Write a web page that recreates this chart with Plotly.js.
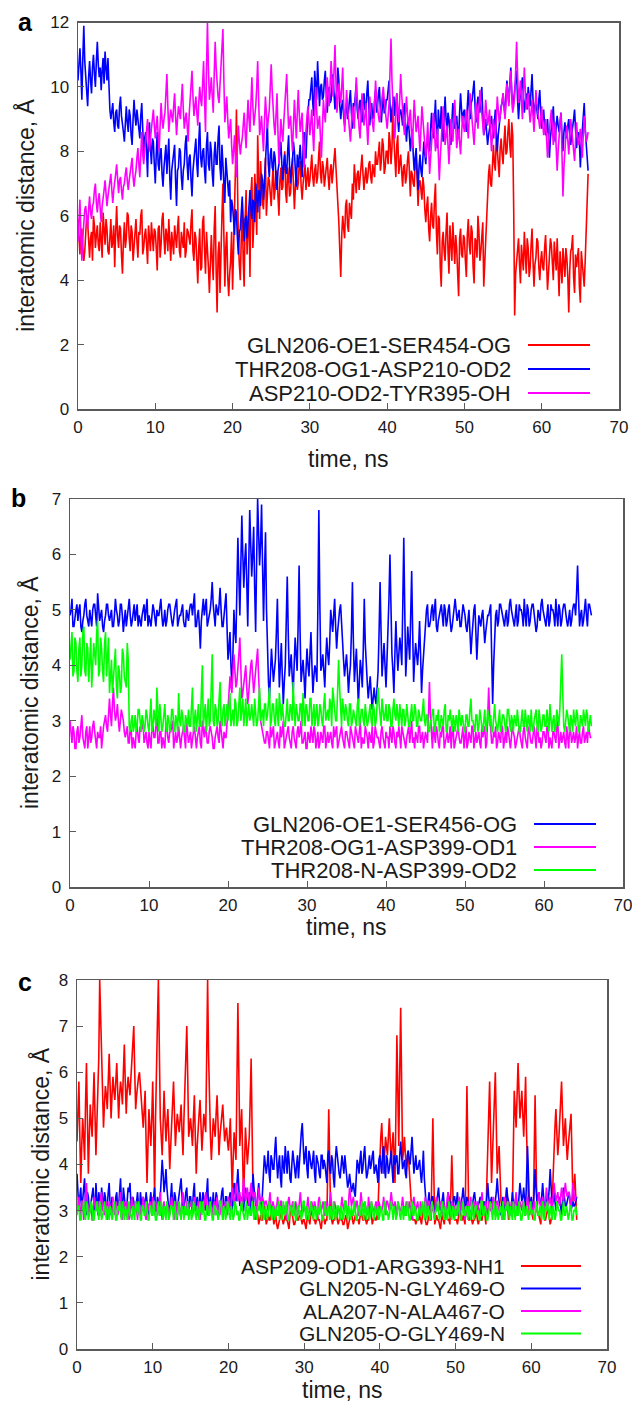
<!DOCTYPE html>
<html><head><meta charset="utf-8">
<script src="https://cdn.plot.ly/plotly-3.0.1.min.js"></script>
<style>html,body{margin:0;padding:0;background:#fff}</style>
</head><body><div id="chart" style="width:632px;height:1406px"></div>
<script>
// Readings at t = 0, 0.25, 0.5 ... ns (main) and at the half steps t = 0.125, 0.375 ... ns (mid)
const T_STEP = 0.25;

// ---------- panel a ----------
const namesA = ["GLN206-OE1-SER454-OG", "THR208-OG1-ASP210-OD2", "ASP210-OD2-TYR395-OH"];
const aRed = [
5.9,4.8,5.6,4.6,5.3,5.8,4.7,5.5,6.0,5.0,5.7,4.9,5.4,6.1,5.1,5.6,4.8,5.9,5.2,4.4,
6.3,5.0,5.6,4.2,5.8,5.3,6.0,4.9,5.5,5.1,5.9,4.7,5.4,6.2,5.0,5.6,4.5,5.3,5.8,4.9,
5.5,4.3,5.7,5.1,6.1,4.8,5.4,5.9,4.6,5.2,5.7,5.0,6.0,4.7,5.3,5.8,4.9,5.5,5.1,6.2,
4.6,5.3,3.9,5.6,4.4,6.0,4.2,5.1,3.6,5.4,4.0,6.3,3.0,5.2,4.5,7.0,3.8,5.5,3.5,4.6,
3.7,6.0,9.3,5.2,4.0,6.4,3.8,6.8,5.5,4.1,7.2,5.8,6.6,8.5,5.9,7.0,6.2,7.8,6.5,7.1,
6.3,7.6,6.8,7.3,6.0,7.5,6.9,8.0,6.4,7.2,6.7,7.8,6.2,7.4,7.0,7.7,6.5,7.3,6.8,7.5,
7.1,7.9,6.9,7.6,7.2,8.3,7.0,7.5,7.3,7.8,6.8,7.6,7.4,8.1,7.0,5.8,4.1,6.0,5.3,6.5,
5.5,6.2,7.0,7.6,6.7,7.4,7.1,7.9,6.8,7.5,7.2,7.7,7.0,7.4,8.0,7.6,8.3,7.7,8.2,7.5,
8.0,8.6,7.6,9.5,7.8,8.2,7.3,7.9,6.9,7.6,7.2,8.0,6.6,7.3,6.9,7.8,6.3,7.1,6.5,6.9,
5.8,6.6,5.2,6.4,5.6,7.0,4.8,5.9,3.8,5.5,4.6,6.1,4.2,5.3,5.8,4.5,5.0,3.5,5.6,4.7,
5.3,4.1,5.9,4.8,5.5,3.9,5.2,6.0,4.6,5.4,3.8,5.0,6.8,7.6,6.9,8.2,7.4,8.0,7.2,8.4,
7.6,8.8,8.0,9.0,7.8,8.5,2.9,4.6,5.3,3.9,4.8,5.5,4.2,5.0,4.4,5.6,3.8,4.7,5.2,4.0,
4.9,4.3,5.4,3.7,4.6,5.1,4.0,4.8,5.3,3.5,4.5,5.0,4.1,4.7,3.0,4.9,5.4,3.6,4.4,5.0,
3.3,4.6,3.8,5.5,7.3];
const aRedMid = [
5.2,5.5,5.0,4.9,6.0,5.1,5.3,4.6,5.7,5.4,5.1,5.8,4.7,5.5,5.9,4.9,5.3,5.0,5.7,5.5,
5.4,5.7,4.8,5.2,5.0,6.1,5.3,5.7,4.6,5.6,5.2,5.5,6.0,4.8,5.4,5.1,5.7,4.9,5.3,5.6,
5.0,5.6,4.7,5.9,5.3,5.6,4.9,5.2,5.5,4.8,5.3,5.6,4.9,5.5,5.0,4.7,5.6,5.2,5.8,4.9,
5.5,4.6,5.0,4.3,5.8,4.9,5.5,4.4,5.0,4.6,5.6,4.3,4.8,3.6,6.0,4.4,5.0,4.1,4.2,5.5,
4.9,7.5,6.6,4.5,5.3,4.6,5.9,4.8,6.3,6.7,5.0,7.3,5.4,6.9,7.7,6.4,7.4,6.0,7.2,6.6,
7.0,6.5,7.4,6.6,7.1,6.8,7.6,6.7,7.5,6.6,7.3,7.0,6.9,6.8,7.6,6.9,7.0,7.6,7.2,6.9,
7.5,7.2,7.4,7.0,7.8,7.3,7.7,6.9,7.6,7.2,7.4,7.0,7.7,7.5,6.6,4.9,5.4,5.6,6.3,5.7,
6.4,5.9,6.5,7.2,7.3,6.8,7.6,7.3,7.2,7.0,7.6,7.2,7.6,7.2,7.6,8.1,7.4,8.4,7.3,8.0,
7.6,8.3,8.1,8.4,7.2,8.5,7.7,7.4,7.5,7.0,7.7,7.4,7.4,7.0,7.6,7.2,7.0,6.8,7.2,6.2,
6.3,5.6,6.0,5.7,6.5,5.5,6.0,4.4,5.2,4.9,5.5,4.9,5.7,4.6,5.1,5.4,4.2,5.3,4.8,5.4,
4.6,5.4,5.1,5.7,4.4,5.3,4.7,5.5,4.9,5.8,4.5,5.6,7.3,7.0,7.8,7.6,8.5,7.5,8.1,7.9,
8.3,7.9,8.6,8.2,8.9,6.2,4.2,4.8,4.5,5.1,4.3,4.9,5.3,4.1,5.1,4.6,4.5,5.3,4.4,4.6,
4.4,5.0,4.6,4.2,5.3,4.4,5.2,4.3,4.6,4.9,3.9,4.6,5.0,4.1,4.3,5.0,4.1,4.8,4.7,3.8,
4.9,4.2,4.6,6.5];
const aBlue = [
10.2,11.2,9.6,11.9,10.4,9.4,10.8,9.8,11.0,10.0,11.4,10.3,9.9,10.9,11.1,10.2,9.6,9.0,9.5,8.6,
9.3,8.7,9.7,8.9,8.3,9.4,8.6,9.1,8.2,9.6,8.8,9.0,8.4,9.5,7.9,8.6,7.2,8.9,7.6,8.3,
7.0,8.6,7.4,8.1,6.9,7.8,7.3,8.4,6.5,7.7,8.2,6.3,7.5,8.0,6.8,7.6,8.5,7.1,7.9,6.6,
7.8,8.4,7.2,8.9,7.5,8.1,7.0,8.6,7.4,8.0,6.9,8.3,7.6,8.8,7.1,7.7,6.4,7.3,6.6,5.8,
6.3,5.4,6.1,4.8,5.6,6.6,5.2,6.0,5.7,6.8,5.9,6.4,7.0,6.1,6.7,7.3,6.5,7.6,8.9,7.2,
8.1,7.4,7.8,6.8,7.6,8.3,7.1,7.9,7.3,8.5,7.0,7.7,8.0,6.9,7.5,8.2,7.2,8.6,7.8,9.2,
9.6,10.3,9.1,9.9,10.8,9.4,10.1,9.7,10.5,9.2,10.0,9.6,10.4,9.3,9.9,10.2,9.0,9.6,8.8,9.5,
9.2,9.9,8.7,9.4,10.1,9.0,9.6,8.9,9.8,9.3,10.2,8.8,9.5,9.1,9.9,9.4,10.0,8.9,9.7,9.2,
9.6,10.2,8.9,9.5,9.1,9.8,8.6,9.3,8.8,9.5,8.3,9.0,8.0,8.7,7.4,8.1,6.8,7.9,7.2,8.3,
7.6,8.5,8.0,9.2,8.4,9.6,8.1,8.8,9.4,8.3,9.7,8.6,9.0,8.2,9.5,8.7,9.1,8.4,9.8,8.9,
9.3,8.6,9.9,9.0,9.6,10.2,8.9,9.7,9.2,10.0,8.5,9.0,8.2,8.7,9.1,8.4,9.3,8.0,8.8,9.4,
9.8,9.1,10.2,9.5,10.6,9.3,9.9,10.5,9.0,9.7,10.3,9.2,9.8,10.0,9.4,10.4,9.1,9.6,9.0,9.9,
8.7,9.3,8.5,9.0,7.8,8.8,9.4,8.3,9.1,8.6,9.2,8.0,8.9,8.4,9.0,8.2,8.7,9.3,8.1,8.6,
7.5,8.7,9.5,8.2,7.4];
const aBlueMid = [
10.8,10.5,10.9,10.8,9.9,10.3,10.2,10.6,10.4,10.8,10.7,10.6,10.5,10.1,10.6,10.9,9.3,9.4,8.9,9.2,
8.8,9.4,9.1,8.6,9.0,8.9,9.3,8.5,9.0,9.1,9.3,8.5,9.1,8.7,8.4,8.0,8.5,8.1,8.4,7.6,
7.9,7.6,8.0,7.3,7.5,8.2,7.7,7.2,7.4,8.0,7.1,7.4,8.1,7.2,7.4,8.2,7.6,7.8,7.1,7.4,
8.2,7.6,8.3,7.8,8.0,7.4,8.2,7.6,8.3,7.3,7.9,7.6,8.4,7.5,8.2,7.0,7.8,6.9,7.1,6.5,
5.9,6.2,5.3,5.5,6.1,5.8,5.9,5.3,6.4,6.2,6.5,5.8,6.6,6.8,6.3,7.1,7.0,8.2,7.6,7.9,
7.5,8.0,7.2,7.4,8.0,7.6,7.6,7.4,8.0,7.5,7.5,8.3,7.4,7.9,7.8,7.6,8.1,7.8,8.6,9.6,
9.9,9.5,10.5,9.6,9.9,10.0,9.6,10.2,9.8,9.8,9.5,10.1,9.8,9.7,10.6,9.4,9.4,9.1,9.3,9.0,
9.6,9.2,9.5,9.7,9.3,9.4,9.2,9.5,9.3,9.8,9.4,9.3,9.0,9.6,9.2,9.8,9.3,9.4,9.2,9.6,
9.9,9.4,9.3,9.7,9.5,9.0,9.2,9.1,9.3,8.8,8.8,8.5,8.4,7.9,7.8,7.4,7.5,7.4,7.8,7.9,
8.2,8.1,8.7,8.6,9.0,8.7,9.3,8.7,8.8,9.1,9.0,9.2,8.5,8.9,9.1,8.9,8.6,9.2,9.3,9.2,
8.9,9.4,9.3,9.5,9.9,9.4,9.4,9.5,9.7,9.2,8.7,8.6,8.5,9.0,8.7,8.9,8.6,8.5,9.2,9.5,
9.4,9.7,9.8,10.1,9.8,9.6,10.2,9.6,9.5,10.0,9.6,9.5,9.3,9.7,9.9,9.6,9.4,9.3,9.6,9.2,
9.0,8.8,8.6,8.4,8.4,9.1,8.7,8.8,8.8,8.9,8.5,8.6,8.6,8.8,8.5,8.5,9.0,8.6,8.4,8.3,
8.2,9.1,8.7,7.8];
const aMagenta = [
5.2,6.5,4.6,5.9,6.3,5.6,6.6,5.9,6.4,7.0,6.1,6.7,5.8,6.5,7.1,6.3,6.8,7.3,6.4,7.0,
7.6,6.7,7.2,6.5,7.0,7.5,6.8,7.3,7.8,6.9,7.4,8.1,7.2,8.6,7.6,8.3,9.0,8.0,8.7,9.3,
8.4,9.1,8.0,9.5,8.7,9.2,10.4,8.6,9.3,8.9,9.8,8.5,9.4,9.0,10.1,8.7,9.2,8.3,9.6,10.5,
9.1,9.7,8.8,10.0,9.4,10.8,8.6,12.0,9.6,10.3,9.2,11.4,10.0,9.5,10.6,11.8,8.9,9.7,8.4,9.0,
7.6,8.5,7.2,8.8,7.9,8.4,9.2,8.1,9.6,8.6,10.3,8.8,9.4,10.8,8.5,9.1,8.0,9.7,8.7,9.3,
10.7,9.2,8.5,9.8,7.6,9.0,8.3,9.5,10.4,8.7,9.1,8.0,9.6,8.4,9.9,8.6,9.2,7.5,8.8,9.4,
8.5,9.3,8.0,10.0,8.7,9.1,7.8,9.6,8.9,10.3,9.4,10.8,9.7,11.3,9.2,10.1,9.5,10.6,8.6,9.9,
9.0,8.3,9.4,8.7,10.3,9.1,8.4,9.8,8.8,9.5,8.2,9.7,9.0,8.6,10.2,9.3,8.9,9.6,10.0,9.2,
8.7,9.5,11.5,9.0,8.4,9.8,8.9,10.4,9.2,8.5,9.7,8.8,9.3,8.1,9.6,8.6,9.1,8.0,9.4,8.5,
7.8,8.9,7.3,8.4,9.2,8.0,8.7,7.1,8.5,9.4,8.2,8.8,7.6,9.0,8.3,9.6,8.1,8.7,7.9,9.1,
8.6,9.3,8.4,9.8,8.9,8.2,9.5,8.7,9.9,9.1,8.5,9.6,8.8,9.3,8.0,9.0,8.4,9.7,8.9,9.4,
9.8,9.0,10.1,9.4,10.5,9.2,9.7,11.4,9.5,10.2,9.0,10.6,9.3,9.8,8.9,9.6,8.6,9.9,9.2,8.7,
9.4,8.5,9.0,7.8,8.8,9.3,8.2,8.9,7.4,8.6,9.2,6.6,8.3,8.8,7.9,9.0,8.4,7.7,8.9,8.2,
8.7,7.8,9.1,8.3,8.6];
const aMagentaMid = [
5.9,5.4,5.3,6.2,5.8,6.2,6.1,6.3,6.8,6.4,6.5,6.2,6.3,6.8,6.6,6.6,7.1,6.8,6.8,7.3,
7.0,7.1,6.8,6.9,7.3,7.1,7.1,7.6,7.2,7.2,7.8,7.6,7.9,7.9,8.0,8.7,8.4,8.4,9.1,8.8,
8.8,8.5,8.8,9.0,9.0,9.8,9.4,9.0,9.1,9.4,9.1,9.0,9.2,9.6,9.3,9.0,8.8,9.1,10.0,9.7,
9.4,9.2,9.5,9.6,10.1,9.6,10.5,10.6,9.9,9.7,10.4,10.6,9.7,10.1,11.2,10.2,9.3,9.0,8.7,8.2,
8.0,7.8,8.1,8.3,8.2,8.8,8.6,8.9,9.0,9.5,9.4,9.1,10.0,9.6,8.8,8.5,8.9,9.2,9.0,10.0,
9.9,8.8,9.2,8.6,8.3,8.6,8.9,10.0,9.5,8.9,8.5,8.8,9.0,9.2,9.2,8.9,8.3,8.2,9.1,8.9,
8.9,8.6,9.0,9.3,8.9,8.4,8.7,9.2,9.6,9.8,10.1,10.2,10.5,10.2,9.6,9.8,10.0,9.5,9.2,9.4,
8.6,8.8,9.0,9.5,9.7,8.7,9.1,9.3,9.1,8.8,8.9,9.3,8.8,9.4,9.7,9.1,9.2,9.8,9.6,8.9,
9.1,10.5,10.2,8.7,9.1,9.3,9.6,9.8,8.8,9.1,9.2,9.0,8.7,8.8,9.1,8.8,8.5,8.7,9.0,8.1,
8.3,8.1,7.8,8.8,8.6,8.3,7.9,7.8,8.9,8.8,8.5,8.2,8.3,8.6,8.9,8.8,8.4,8.3,8.5,8.8,
9.0,8.8,9.1,9.3,8.5,8.8,9.1,9.3,9.5,8.8,9.0,9.2,9.0,8.6,8.5,8.7,9.0,9.3,9.1,9.6,
9.4,9.5,9.8,10.0,9.8,9.4,10.5,10.4,9.8,9.6,9.8,9.9,9.5,9.3,9.2,9.1,9.2,9.5,8.9,9.0,
8.9,8.7,8.4,8.3,9.0,8.7,8.5,8.1,8.0,8.9,7.9,7.5,8.5,8.3,8.4,8.7,8.0,8.3,8.5,8.4,
8.2,8.5,8.7,8.4];

// ---------- panel b ----------
const namesB = ["GLN206-OE1-SER456-OG", "THR208-OG1-ASP399-OD1", "THR208-N-ASP399-OD2"];
const bBlue = [
4.9,5.2,4.7,5.0,4.8,5.1,4.6,4.9,5.2,4.8,5.0,4.7,5.1,4.9,5.3,4.8,5.0,4.6,4.9,5.1,
4.8,5.0,4.7,5.2,4.9,4.8,5.1,4.6,5.0,4.9,5.2,4.7,5.0,4.8,5.1,4.9,4.7,5.0,4.8,5.2,
4.9,4.7,5.1,4.8,5.0,4.9,5.2,4.7,5.0,4.8,5.1,4.9,4.7,5.0,5.2,4.8,4.9,5.1,4.7,5.0,
4.8,5.1,4.9,5.3,4.7,5.0,4.3,5.1,4.9,5.2,4.8,5.0,5.5,4.8,5.1,4.9,5.4,4.7,5.0,5.3,
4.1,4.6,3.6,5.0,4.4,6.3,4.9,6.7,5.4,6.2,4.7,6.8,5.6,6.5,4.6,7.0,5.8,6.9,4.8,6.4,
4.0,3.4,4.3,3.7,4.1,5.2,3.6,4.4,3.3,4.0,5.6,3.8,4.2,3.5,4.5,3.9,5.8,3.7,4.1,3.4,
4.3,3.8,4.6,3.5,4.0,3.7,6.8,3.9,4.2,3.6,4.5,4.0,5.0,4.6,5.2,4.3,4.9,5.1,4.4,3.8,
4.2,3.5,4.0,5.5,3.7,4.3,3.3,4.1,3.6,5.2,3.9,3.4,3.8,3.2,3.6,3.3,3.9,5.5,3.8,4.4,
3.6,4.6,6.0,4.2,3.5,4.8,3.9,4.5,4.0,6.3,3.8,4.7,4.1,5.7,3.7,4.4,4.0,4.8,3.5,4.2,
4.9,5.1,4.7,5.0,4.8,5.2,4.6,4.9,5.1,4.7,5.0,4.8,5.1,4.6,4.9,5.2,4.8,5.0,4.7,5.1,
4.9,4.6,5.0,4.2,4.8,5.1,4.1,4.9,4.7,5.0,4.4,4.8,4.9,5.1,3.3,4.7,5.0,4.8,5.1,4.9,
4.7,5.0,4.8,5.2,4.9,4.7,5.1,4.8,5.0,4.9,5.2,4.7,5.0,4.8,5.1,4.9,4.6,5.0,4.8,5.2,
4.9,4.7,5.1,4.8,5.0,4.9,5.2,4.7,5.0,4.8,5.1,4.9,4.7,5.0,4.8,5.1,4.9,5.8,4.7,5.0,
4.8,5.2,4.7,5.1,4.9];
const bBlueMid = [
5.0,4.7,4.9,5.1,5.0,4.7,4.8,5.1,4.9,4.7,4.8,5.0,5.1,4.7,5.0,4.9,4.7,4.8,5.1,4.9,
4.9,4.7,4.9,5.0,4.7,5.1,4.9,4.8,4.7,5.1,4.9,4.8,5.1,5.0,4.7,4.8,4.9,5.1,5.0,4.7,
4.8,4.9,5.0,4.7,4.9,5.1,4.9,4.8,4.7,5.0,5.1,4.8,4.9,5.1,4.7,4.9,5.0,4.8,4.7,4.9,
5.0,5.1,5.1,4.7,4.9,4.7,4.8,5.2,5.1,4.7,4.9,5.2,5.1,4.7,5.0,5.1,5.0,4.7,5.1,4.7,
4.3,4.0,4.2,4.6,5.4,5.6,5.8,6.0,5.9,5.5,5.8,6.2,6.0,5.4,5.9,6.4,6.2,5.8,5.7,5.0,
3.7,3.9,4.0,3.9,4.6,4.3,4.0,3.8,3.7,4.8,4.6,4.0,3.8,4.0,4.2,4.7,4.6,3.9,3.8,3.9,
4.0,4.2,4.0,3.8,3.9,5.0,5.1,4.0,3.9,4.1,4.2,4.4,4.8,4.9,4.7,4.6,5.0,4.7,4.1,4.0,
3.9,3.8,4.6,4.4,4.0,3.8,3.7,3.9,4.3,4.4,3.7,3.6,3.5,3.4,3.4,3.6,4.6,4.6,4.1,4.0,
4.1,5.2,5.0,3.9,4.2,4.3,4.2,4.3,5.1,5.0,4.2,4.4,4.9,4.6,4.1,4.2,4.3,4.2,3.9,4.6,
5.0,4.7,4.8,5.1,5.0,4.7,4.8,5.0,4.9,5.1,4.7,5.0,4.8,4.7,5.1,5.0,4.9,4.7,4.9,5.0,
4.7,4.8,4.6,4.5,5.0,4.6,4.5,4.8,4.9,4.7,4.6,4.9,5.0,4.2,4.0,4.9,4.7,5.1,5.0,4.8,
4.9,4.7,5.1,5.0,4.8,4.9,4.7,5.1,5.0,4.7,4.9,5.1,4.7,5.0,5.1,4.8,4.7,4.9,5.1,5.0,
4.8,4.9,4.7,5.1,5.0,4.7,4.9,5.1,4.7,5.0,5.1,4.8,4.9,4.7,5.0,5.1,5.3,5.2,4.9,4.7,
5.0,4.9,5.1,5.0];
const bMagenta = [
3.0,2.6,2.8,2.5,2.9,2.7,3.1,2.6,2.8,2.5,2.9,2.7,3.0,2.6,2.8,2.7,2.5,2.9,3.1,2.8,
3.4,2.9,3.6,3.0,3.3,2.8,3.2,3.0,2.7,2.9,2.6,2.8,2.7,2.5,2.9,2.6,2.8,3.0,2.7,2.6,
2.8,2.5,2.9,2.7,3.1,2.6,2.8,2.7,2.5,2.9,2.6,2.8,3.0,2.7,2.6,2.9,2.5,2.8,2.7,3.0,
2.6,2.8,2.7,2.9,2.5,2.8,2.6,3.0,2.7,2.8,2.6,2.9,2.7,2.5,2.8,2.7,3.0,2.6,2.8,2.7,
3.2,3.8,3.5,4.2,3.6,3.9,4.5,3.4,3.7,4.0,3.3,3.8,4.1,3.5,3.9,4.3,3.2,2.9,2.7,2.6,
2.8,2.5,2.7,2.9,2.6,2.8,2.5,2.7,3.0,2.6,2.8,2.7,2.5,2.9,2.6,2.8,2.7,3.0,2.6,2.8,
2.5,2.7,2.9,2.6,2.8,2.7,2.5,2.8,2.6,2.9,2.7,2.6,2.8,2.5,2.7,2.9,2.6,2.8,2.7,2.5,
2.8,2.6,2.9,2.7,2.5,2.8,2.6,3.0,2.7,2.6,2.8,2.5,2.7,2.9,2.6,2.8,2.7,2.5,2.9,2.6,
2.8,2.7,2.9,2.6,2.8,2.5,2.7,2.6,2.9,2.7,2.5,2.8,2.6,3.0,2.7,2.8,2.6,2.9,2.7,2.5,
2.8,2.6,3.7,2.7,2.9,2.6,2.8,2.5,2.7,2.9,2.6,2.8,2.7,2.5,2.9,2.6,2.8,2.7,2.6,2.9,
2.7,2.5,2.8,2.6,2.9,2.7,2.6,2.8,2.5,2.7,2.9,2.6,3.6,2.8,2.6,2.7,2.5,2.8,2.6,2.9,
2.7,2.6,2.8,2.5,2.9,2.7,2.6,2.8,2.7,2.5,2.9,2.6,2.8,2.7,2.6,2.9,2.5,2.8,2.7,2.6,
2.8,2.6,2.9,2.7,2.5,2.8,2.6,3.0,2.7,2.6,2.8,2.5,2.7,2.9,2.6,2.8,2.7,2.5,2.8,2.6,
2.9,2.7,2.6,2.8,2.7];
const bMagentaMid = [
2.7,2.9,2.5,2.8,2.6,2.9,2.7,2.5,2.9,2.7,2.6,2.9,2.8,2.5,2.7,2.9,2.8,3.0,2.9,3.1,
3.1,3.3,3.2,3.1,3.0,3.0,3.1,2.8,2.8,2.6,2.9,2.5,2.6,2.8,2.7,2.9,2.9,2.6,2.8,2.5,
2.6,2.9,2.7,2.9,2.6,2.8,2.5,2.6,2.9,2.7,2.8,2.9,2.5,2.8,2.7,2.6,2.7,2.9,2.5,2.8,
2.7,2.5,2.8,2.6,2.7,2.9,2.5,2.8,2.9,2.6,2.8,2.8,2.5,2.7,2.9,2.6,2.8,2.5,2.7,2.9,
3.5,3.6,3.9,3.9,3.7,4.2,3.9,3.5,3.9,3.6,3.5,4.0,3.8,3.7,4.1,3.8,3.0,2.8,2.6,2.8,
2.6,2.9,2.8,2.5,2.7,2.6,2.9,2.8,2.5,2.7,2.9,2.6,2.8,2.7,2.5,2.9,2.8,2.6,2.7,2.5,
2.8,2.6,2.7,2.9,2.5,2.8,2.6,2.7,2.9,2.5,2.8,2.7,2.6,2.9,2.8,2.5,2.7,2.9,2.6,2.8,
2.7,2.5,2.8,2.6,2.9,2.7,2.8,2.5,2.6,2.9,2.7,2.8,2.6,2.5,2.9,2.7,2.6,2.8,2.7,2.5,
2.7,2.5,2.7,2.9,2.6,2.8,2.9,2.5,2.8,2.6,2.7,2.9,2.8,2.6,2.5,2.7,2.9,2.6,2.8,2.7,
2.7,3.1,3.1,2.5,2.7,2.9,2.6,2.8,2.9,2.5,2.7,2.6,2.9,2.8,2.5,2.7,2.9,2.6,2.8,2.5,
2.9,2.6,2.7,2.9,2.5,2.8,2.7,2.6,2.9,2.8,2.5,3.1,3.1,2.6,2.8,2.9,2.6,2.7,2.9,2.5,
2.8,2.9,2.6,2.7,2.8,2.5,2.7,2.9,2.6,2.8,2.7,2.5,2.9,2.6,2.8,2.7,2.9,2.6,2.5,2.8,
2.7,2.9,2.5,2.6,2.8,2.7,2.9,2.5,2.8,2.7,2.6,2.9,2.5,2.8,2.7,2.6,2.9,2.7,2.6,2.8,
2.6,2.8,2.9,2.7];
const bGreen = [
4.1,4.6,3.9,4.4,3.7,4.5,4.0,4.7,3.8,4.3,4.1,3.6,4.4,4.0,4.8,3.9,4.3,3.7,4.6,4.2,
3.5,4.1,3.8,4.3,3.4,3.9,3.6,4.2,3.7,4.4,2.9,3.0,2.8,3.1,2.9,3.2,2.8,3.0,2.9,3.1,
2.8,3.4,2.9,3.0,3.6,2.8,3.1,2.9,3.3,2.8,3.0,2.9,3.2,2.8,3.0,3.5,2.9,3.1,2.8,3.0,
3.2,2.9,3.6,3.0,2.8,3.3,2.9,4.0,3.1,2.8,3.4,3.0,4.2,2.9,3.2,3.0,3.7,2.9,3.3,3.1,
3.0,3.5,3.1,2.9,3.3,3.0,3.6,3.2,2.9,3.4,3.1,3.0,3.3,2.9,3.2,3.0,3.6,3.1,2.9,3.3,
3.1,3.6,3.0,3.3,2.9,3.2,3.5,3.0,3.1,2.9,3.4,3.0,3.2,3.7,2.9,3.1,3.0,3.3,3.5,2.9,
3.2,3.0,3.4,3.1,2.9,3.3,3.0,3.2,2.9,3.5,3.1,3.0,3.3,3.6,3.2,3.0,4.1,3.1,3.4,3.0,
3.2,2.9,3.3,3.0,3.1,2.9,3.4,3.0,3.2,2.9,3.1,3.0,3.3,2.9,3.2,3.0,3.6,3.1,3.4,3.0,
3.3,3.0,3.2,2.9,3.4,3.0,3.1,3.3,2.9,3.2,3.0,3.1,2.9,3.3,3.0,3.2,2.9,3.1,3.0,3.4,
2.9,3.1,2.8,3.0,3.2,2.9,3.0,2.8,3.1,2.9,3.3,2.8,3.0,2.9,3.1,2.8,3.0,3.2,2.9,3.0,
2.8,3.1,2.9,3.4,3.0,2.8,3.1,2.9,3.0,2.8,3.2,2.9,3.0,3.1,2.8,3.3,2.9,3.0,2.8,3.1,
3.0,2.9,3.2,2.8,3.0,3.1,2.9,3.0,2.8,3.2,2.9,3.0,3.1,2.8,2.9,3.0,3.2,2.8,3.0,2.9,
3.1,2.9,3.0,3.3,2.8,3.1,2.9,3.0,3.2,4.2,2.9,3.0,3.1,2.8,3.0,3.2,2.9,3.1,2.8,3.0,
3.2,2.9,3.1,3.0,2.9];
const bGreenMid = [
4.4,3.8,4.5,3.9,4.3,3.8,4.6,3.9,4.4,3.7,4.5,3.9,4.2,4.6,3.8,4.5,3.9,4.4,3.8,4.5,
3.8,3.5,4.2,3.6,4.0,3.5,4.3,3.8,3.6,4.1,2.8,3.1,2.9,2.8,3.2,2.9,3.1,2.8,3.2,2.9,
3.1,2.8,3.2,2.9,3.1,3.3,2.8,3.2,2.9,3.1,2.8,3.2,2.9,3.1,2.8,3.0,3.2,2.8,3.1,2.9,
2.9,3.3,2.8,3.2,3.1,2.9,3.5,2.9,3.3,3.1,2.9,3.6,3.0,3.3,2.9,3.4,3.0,3.2,2.9,3.3,
3.3,2.9,3.2,3.4,2.9,3.3,3.0,3.4,3.1,2.9,3.3,3.1,3.0,3.4,2.9,3.3,3.0,3.2,3.3,3.0,
3.3,2.9,3.3,3.0,3.4,2.9,3.2,3.3,2.9,3.2,3.0,3.3,3.0,3.2,3.3,3.0,3.3,2.9,3.2,3.3,
3.0,3.4,2.9,3.3,3.2,2.9,3.3,3.0,3.3,3.0,3.2,3.4,2.9,3.4,3.0,3.5,3.6,2.9,3.2,3.3,
3.0,3.3,2.9,3.2,3.0,3.3,2.9,3.2,3.0,3.3,2.9,3.2,3.0,3.3,2.9,3.3,3.3,2.9,3.2,3.1,
3.0,3.3,2.9,3.2,3.1,3.3,2.9,3.0,3.2,2.9,3.3,2.9,3.2,3.0,3.3,2.9,3.2,3.0,3.3,3.0,
3.1,2.8,3.0,3.2,2.8,3.1,3.2,2.9,3.0,3.2,2.8,3.1,3.2,2.8,3.0,3.1,2.8,3.0,3.1,2.8,
3.1,2.9,3.2,3.0,2.9,3.1,2.8,3.2,2.9,3.1,2.8,3.2,2.9,2.8,3.1,3.0,2.8,3.2,2.9,3.1,
2.8,3.2,2.9,3.1,2.8,3.0,3.2,2.8,3.1,2.9,3.2,2.8,3.0,3.2,2.8,3.1,2.9,3.2,2.8,3.1,
2.9,3.2,2.8,3.1,3.0,2.8,3.2,2.9,3.6,3.5,2.8,3.2,2.9,3.1,2.8,3.0,3.2,2.8,3.1,2.9,
3.0,3.2,2.8,3.1];

// ---------- panel c ----------
const namesC = ["ASP209-OD1-ARG393-NH1", "GLN205-N-GLY469-O", "ALA207-N-ALA467-O", "GLN205-O-GLY469-N"];
const cRed = [
4.5,5.8,3.6,5.0,4.1,6.2,3.8,5.3,4.6,6.0,4.2,5.4,8.0,6.1,4.8,5.7,5.2,6.4,5.0,5.9,
5.4,6.2,5.0,5.8,5.3,6.6,5.1,5.9,5.5,6.3,7.0,5.2,5.8,6.0,5.4,4.8,5.6,3.6,5.2,4.4,
5.8,3.3,6.5,8.0,5.0,4.2,5.6,4.5,5.2,3.9,4.9,5.8,4.4,5.1,4.7,5.3,4.2,5.7,7.0,4.6,
5.0,4.4,5.5,3.8,4.9,5.4,4.3,5.1,4.7,8.0,5.2,4.1,5.0,4.6,5.5,4.2,4.9,5.3,4.5,4.8,
4.3,5.0,3.4,4.7,4.1,7.5,4.4,5.2,3.2,4.8,4.0,4.6,6.3,3.3,2.8,3.0,2.7,2.9,2.8,3.1,
2.7,2.9,2.8,3.1,2.7,2.9,2.6,2.8,3.0,2.7,2.9,2.8,2.6,3.1,2.8,2.7,2.9,2.8,3.0,2.7,
2.8,2.6,2.9,2.7,3.0,2.8,2.7,2.9,2.8,2.6,2.9,2.7,2.8,5.2,2.9,2.7,2.8,3.0,2.7,2.9,
2.8,2.7,2.9,2.6,2.8,3.0,2.7,2.9,2.8,2.7,3.0,2.8,2.9,2.7,2.8,3.1,2.7,2.9,2.8,3.0,
4.3,4.9,3.8,4.6,4.2,5.0,4.0,4.7,3.6,6.8,4.4,7.4,4.1,4.6,3.9,4.3,3.5,2.9,2.8,2.7,
2.8,2.9,2.7,3.0,2.8,2.7,2.9,2.8,5.0,2.7,2.9,2.8,2.6,2.9,2.7,3.0,2.8,2.7,4.2,2.9,
2.8,2.7,3.0,2.8,2.9,2.7,5.7,2.8,2.9,2.7,2.8,3.0,2.7,2.9,2.8,3.2,2.7,4.5,5.8,3.6,
4.8,6.0,3.8,4.4,3.2,3.0,2.9,3.5,2.8,3.1,3.0,5.6,4.8,6.2,5.0,5.6,4.6,5.9,3.6,2.9,
3.1,2.8,5.5,3.0,2.9,2.7,3.2,2.8,2.9,3.0,2.7,2.9,4.5,5.2,4.2,4.9,5.8,4.4,5.0,4.1,
4.7,5.1,3.2,3.8,2.8];
const cRedMid = [
5.1,4.6,4.4,4.6,5.3,5.0,4.6,4.9,5.3,5.1,4.9,6.3,7.1,5.4,5.3,5.5,5.8,5.7,5.5,5.6,
5.8,5.6,5.5,5.6,6.0,5.8,5.6,5.7,5.9,6.5,6.0,5.5,5.9,5.7,5.1,5.2,4.5,4.4,4.8,5.0,
4.7,5.0,7.1,6.4,4.6,4.9,5.0,4.9,4.6,4.4,5.3,5.1,4.8,4.9,5.0,4.7,5.0,6.2,5.9,4.8,
4.7,5.0,4.6,4.4,5.1,4.9,4.7,4.9,6.3,6.4,4.6,4.6,4.8,5.1,4.9,4.6,5.1,4.9,4.7,4.5,
4.6,4.2,4.1,4.4,5.8,6.0,4.8,4.2,4.0,4.4,4.3,5.4,4.8,3.0,2.9,2.9,2.8,2.8,3.0,2.9,
2.8,2.8,3.0,2.9,2.8,2.7,2.7,2.9,2.8,2.8,2.8,2.7,2.9,3.0,2.7,2.8,2.8,2.9,2.8,2.8,
2.7,2.8,2.8,2.9,2.9,2.8,2.8,2.8,2.7,2.8,2.8,2.8,4.0,4.1,2.8,2.8,2.9,2.8,2.8,2.8,
2.7,2.8,2.8,2.7,2.9,2.8,2.8,2.8,2.8,2.9,2.9,2.8,2.8,2.8,2.9,2.9,2.8,2.8,2.9,3.6,
4.6,4.4,4.2,4.4,4.6,4.5,4.4,4.2,5.2,5.6,6.0,5.8,4.3,4.2,4.1,3.9,3.2,2.8,2.8,2.8,
2.8,2.8,2.9,2.9,2.7,2.8,2.8,3.9,3.8,2.8,2.8,2.7,2.8,2.8,2.9,2.9,2.8,3.4,3.5,2.8,
2.8,2.9,2.9,2.8,2.8,4.2,4.2,2.8,2.8,2.8,2.9,2.8,2.8,2.8,3.0,2.9,3.6,5.1,4.7,4.2,
5.4,4.9,4.1,3.8,3.1,2.9,3.2,3.1,3.0,3.0,4.3,5.2,5.5,5.6,5.3,5.1,5.2,4.7,3.2,3.0,
2.9,4.1,4.2,2.9,2.8,3.0,3.0,2.8,3.0,2.8,2.8,3.7,4.8,4.7,4.5,5.3,5.1,4.7,4.5,4.4,
4.9,4.2,3.5,3.3];
const cBlue = [
3.8,3.0,3.5,3.2,3.7,2.9,3.3,3.0,3.4,3.1,3.6,2.9,3.2,3.5,3.0,3.3,3.1,3.6,2.9,3.2,
3.0,3.4,3.1,3.7,3.0,3.3,2.9,3.5,3.6,3.1,3.2,3.0,3.4,2.9,3.1,3.3,3.0,3.2,2.9,3.4,
3.1,3.5,3.0,3.2,3.3,4.1,3.4,3.9,3.2,3.0,3.6,3.1,3.3,2.9,3.4,3.7,3.0,3.2,3.5,3.1,
3.3,3.0,3.6,3.2,2.9,3.4,3.1,3.3,3.0,3.7,3.2,3.0,3.4,3.1,3.3,2.9,3.2,3.5,3.0,3.3,
3.1,3.4,3.0,3.6,3.2,3.9,3.1,3.3,3.0,3.5,3.2,3.4,3.0,3.8,3.3,3.1,3.6,3.2,3.4,4.2,
3.8,4.3,3.6,4.1,3.9,4.6,3.7,4.2,3.5,4.0,4.4,3.8,4.1,3.6,4.3,3.9,4.0,3.7,4.5,4.9,
4.0,4.4,3.7,4.2,3.9,4.3,3.6,4.1,3.8,4.2,3.9,4.0,3.6,4.3,3.8,4.1,3.5,4.4,3.9,3.7,
4.2,3.8,4.0,3.5,3.8,3.4,3.6,3.3,4.1,3.8,4.3,3.9,4.4,3.7,4.1,3.9,4.2,3.8,4.0,3.6,
4.2,3.8,4.4,3.7,4.1,3.9,4.3,3.6,4.0,4.2,3.8,4.5,3.9,4.1,3.7,4.3,4.0,4.6,3.8,4.2,
3.9,4.1,3.6,4.3,3.2,3.0,3.4,3.1,3.3,2.9,3.2,3.5,3.0,3.3,3.1,2.9,3.4,3.2,3.0,3.3,
3.1,3.4,2.9,3.2,3.5,3.0,3.3,3.1,2.9,3.2,3.4,3.0,3.1,3.3,2.9,3.2,3.0,3.6,3.1,3.3,
3.0,3.2,3.7,3.1,2.9,3.3,3.0,3.5,3.2,2.9,3.4,3.1,3.3,3.0,3.6,3.2,3.5,3.0,4.4,3.1,
3.3,3.0,3.9,3.2,3.4,3.1,3.6,3.0,3.3,3.2,3.9,3.1,3.4,3.0,3.2,3.3,2.9,3.5,3.1,3.2,
3.4,3.0,3.2,3.1,3.3];
const cBlueMid = [
3.4,3.3,3.0,3.5,3.1,3.4,3.0,3.2,3.5,3.0,3.2,3.4,3.0,3.2,3.4,3.0,3.4,3.1,3.3,3.0,
3.3,3.0,3.4,3.1,3.5,3.0,3.2,3.4,3.1,3.3,3.0,3.2,3.1,3.4,3.0,3.2,3.4,3.0,3.2,3.1,
3.3,3.0,3.3,3.1,3.7,3.8,3.6,3.5,3.0,3.3,3.1,3.4,3.0,3.2,3.6,3.3,3.1,3.4,3.0,3.3,
3.1,3.4,3.0,3.3,3.2,3.0,3.4,3.1,3.4,3.0,3.3,3.1,3.0,3.4,3.1,3.2,3.4,3.0,3.3,3.1,
3.3,3.0,3.3,3.4,3.6,3.5,3.2,3.0,3.3,3.4,3.1,3.3,3.4,3.5,3.1,3.4,3.3,3.0,3.8,4.0,
4.0,3.8,4.2,3.9,4.3,4.1,4.0,3.7,4.2,3.8,4.1,4.3,3.7,4.0,4.1,3.7,4.2,4.1,4.7,4.4,
4.2,3.9,4.3,4.0,4.1,3.8,4.2,4.0,3.7,4.2,4.1,3.8,4.2,3.9,4.2,3.7,4.1,4.2,3.8,3.9,
4.0,4.2,3.7,3.6,3.6,3.5,3.4,3.7,4.0,4.1,3.8,4.2,4.0,3.8,4.2,4.0,4.3,3.9,3.8,4.1,
4.0,4.3,3.9,4.2,3.8,4.1,3.9,4.2,4.1,3.8,4.2,4.2,4.0,3.8,4.2,4.1,4.3,4.2,4.0,3.9,
4.0,3.8,3.9,3.7,3.1,3.3,3.0,3.3,3.1,3.0,3.3,3.2,3.1,3.4,3.0,3.1,3.3,3.0,3.1,3.3,
3.2,3.0,3.1,3.3,3.2,3.1,3.2,3.0,3.0,3.3,3.2,3.0,3.2,3.1,3.0,3.1,3.3,3.3,3.2,3.1,
3.1,3.4,3.4,3.0,3.1,3.1,3.2,3.3,3.0,3.1,3.2,3.2,3.1,3.3,3.4,3.3,3.2,3.7,3.8,3.2,
3.1,3.4,3.5,3.3,3.2,3.3,3.3,3.1,3.2,3.5,3.5,3.2,3.2,3.1,3.2,3.1,3.2,3.3,3.1,3.3,
3.2,3.1,3.1,3.2];
const cMagenta = [
3.0,3.3,2.8,3.2,2.9,3.6,3.0,3.1,2.8,3.3,3.0,3.2,2.9,3.4,3.0,3.1,2.8,3.2,3.0,3.3,
2.9,3.1,3.0,3.4,2.8,3.2,3.0,3.1,2.9,3.3,3.0,3.2,2.8,3.1,3.0,3.3,2.9,3.2,3.0,3.1,
3.3,2.9,3.1,3.0,3.4,2.8,3.2,3.0,3.1,2.9,3.3,3.0,3.2,2.8,3.1,3.0,3.4,2.9,3.2,3.0,
3.1,2.9,3.3,3.0,3.2,2.8,3.1,3.0,3.4,2.9,3.2,3.0,3.1,2.9,3.3,3.0,3.2,2.8,3.1,3.0,
3.3,3.0,3.5,3.1,3.6,3.2,3.4,3.0,3.7,3.2,3.5,3.1,3.6,3.3,3.4,3.0,3.5,3.2,3.3,3.1,
3.2,3.0,3.4,2.9,3.1,3.0,3.3,2.9,3.2,3.0,3.1,2.8,3.3,3.0,3.2,2.9,3.1,3.0,3.4,2.9,
3.1,3.0,3.3,2.9,3.2,3.0,3.1,2.8,3.3,3.0,3.2,2.9,3.1,3.0,3.4,2.9,3.2,3.0,3.1,2.9,
3.3,3.0,3.2,2.9,3.5,3.1,3.3,3.0,3.2,2.9,3.4,3.1,3.2,3.0,3.3,2.9,3.1,3.0,3.2,2.8,
3.1,3.0,3.3,2.9,3.2,3.0,3.4,3.1,3.2,2.9,3.1,3.0,3.3,2.9,3.2,3.0,3.1,2.8,3.3,3.0,
3.2,2.9,3.1,3.0,3.3,2.9,3.2,3.0,3.1,2.8,3.3,3.0,3.2,2.9,3.1,3.0,3.4,2.9,3.2,3.0,
3.1,2.9,3.3,3.0,3.2,2.8,3.1,3.0,3.3,2.9,3.2,3.0,3.1,2.9,3.4,3.0,3.2,2.9,3.1,3.0,
3.3,2.9,3.2,3.0,3.1,2.8,3.3,3.0,3.2,2.9,3.1,3.0,3.4,2.9,3.2,3.0,3.1,2.9,3.3,3.0,
3.2,2.9,3.1,3.0,3.4,3.1,3.3,3.0,3.5,3.1,3.3,3.0,3.6,3.2,3.4,3.1,3.5,3.2,3.6,3.3,
3.4,3.1,3.6,3.2,3.3];
const cMagentaMid = [
3.1,2.9,3.2,2.8,3.3,3.2,2.9,3.1,2.8,3.2,3.1,2.9,3.3,3.0,2.9,3.2,2.9,3.1,2.9,3.1,
3.2,2.9,3.2,3.0,3.1,2.9,3.2,2.8,3.1,2.9,3.1,3.0,3.2,2.9,3.1,3.0,2.8,3.1,3.2,2.9,
3.1,3.2,2.9,3.2,3.0,3.1,2.9,3.2,3.0,3.1,3.1,2.8,3.1,3.2,2.9,3.2,3.1,3.0,2.9,3.1,
3.2,3.0,3.1,2.9,3.0,3.2,3.0,3.2,3.1,3.0,3.1,2.9,3.2,3.1,3.0,2.9,3.2,3.1,3.2,2.9,
3.1,3.2,3.3,3.3,3.4,3.3,3.2,3.4,3.4,3.3,3.3,3.4,3.4,3.3,3.2,3.2,3.3,3.2,3.2,3.2,
3.1,3.2,3.1,3.2,3.0,3.1,3.1,3.2,2.9,3.1,2.9,3.2,3.1,3.1,3.0,3.2,2.9,3.2,3.1,3.0,
3.0,3.1,3.1,3.0,3.1,3.2,2.9,3.2,3.1,3.1,2.9,3.2,3.0,3.2,3.1,3.0,3.1,2.9,3.0,3.1,
3.1,3.2,2.9,3.2,3.3,3.2,3.1,3.2,2.9,3.1,3.2,3.1,3.1,2.9,3.1,3.2,3.0,3.1,3.0,3.2,
3.0,3.1,3.1,3.2,3.1,3.2,3.2,3.1,3.0,3.2,3.0,3.1,3.1,3.0,3.1,3.2,2.9,3.2,3.1,3.1,
3.0,3.2,3.0,3.1,3.1,3.2,3.1,3.0,2.9,3.2,3.1,3.1,3.0,3.2,3.0,3.2,3.1,3.0,3.1,3.1,
3.0,3.1,3.1,3.2,3.0,2.9,3.2,3.1,3.1,3.0,3.1,3.2,3.0,3.2,3.1,3.1,3.0,3.2,3.0,3.1,
3.1,3.2,3.1,3.0,2.9,3.2,3.1,3.1,3.0,3.2,3.0,3.2,3.1,3.0,3.1,3.2,3.0,3.1,3.1,3.1,
3.0,3.2,3.0,3.2,3.2,3.2,3.1,3.2,3.3,3.2,3.1,3.3,3.4,3.3,3.2,3.3,3.3,3.4,3.4,3.4,
3.2,3.3,3.4,3.3];
const cGreen = [
2.9,3.1,2.8,3.0,2.9,3.2,2.8,3.0,3.1,2.8,3.0,2.9,3.2,2.8,3.0,2.9,3.1,2.8,3.0,2.9,
3.1,2.8,3.0,2.9,3.2,2.8,3.0,3.1,2.9,2.8,3.0,3.2,2.9,3.0,2.8,3.1,2.9,3.0,2.8,3.1,
2.9,3.0,2.8,3.2,2.9,3.0,3.1,2.8,3.0,2.9,3.1,2.8,3.0,2.9,3.2,2.8,3.0,3.1,2.9,2.8,
3.0,2.9,3.1,2.8,3.0,3.2,2.9,3.0,2.8,3.1,2.9,3.0,2.8,3.1,3.0,2.9,3.2,2.8,3.0,2.9,
3.1,2.8,3.0,2.9,3.1,3.0,2.8,3.2,2.9,3.0,2.8,3.1,2.9,3.0,3.1,2.8,3.0,2.9,3.2,2.8,
3.0,2.9,3.1,2.8,3.0,3.1,2.9,2.8,3.0,3.2,2.9,3.0,2.8,3.1,2.9,3.0,2.8,3.1,3.0,2.9,
3.2,2.8,3.0,2.9,3.1,2.8,3.0,3.1,2.9,3.0,2.8,3.2,2.9,3.0,3.1,2.8,3.0,2.9,3.1,2.8,
3.0,2.9,3.2,2.8,3.0,3.1,2.9,3.0,2.8,3.1,2.9,3.0,3.2,2.8,3.0,2.9,3.1,2.8,3.0,3.1,
2.9,3.0,2.8,3.1,3.0,2.9,3.2,2.8,3.0,2.9,3.1,2.8,3.0,3.1,2.9,3.0,2.8,3.2,2.9,3.0,
2.8,3.1,2.9,3.0,3.2,2.8,3.0,2.9,3.1,2.8,3.0,3.0,2.9,3.2,2.8,3.0,2.9,3.1,2.8,3.0,
3.1,2.9,3.0,2.8,3.2,2.9,3.0,3.1,2.8,3.0,2.9,3.1,3.0,2.8,3.2,2.9,3.0,2.8,3.1,2.9,
3.0,2.8,3.1,2.9,3.0,3.2,2.8,3.0,2.9,3.1,2.8,3.0,3.1,2.9,3.0,2.8,3.2,2.9,3.0,3.1,
2.9,3.0,2.8,3.1,2.9,3.0,3.2,2.8,3.0,2.9,3.1,2.8,3.0,2.9,3.1,3.0,2.8,3.2,2.9,3.0,
2.9,3.1,2.8,3.0,2.9];
const cGreenMid = [
3.1,2.8,3.0,3.2,2.8,3.1,2.9,3.2,2.8,3.0,3.2,2.8,3.1,2.9,3.2,2.8,3.0,3.1,2.8,3.2,
2.8,3.1,3.2,2.8,3.0,3.1,2.8,3.2,2.9,3.1,2.8,3.0,3.2,2.8,3.1,2.9,3.2,2.8,3.1,2.9,
3.2,2.8,3.1,2.9,3.2,2.8,2.9,3.2,2.8,3.1,3.0,3.2,2.8,3.1,2.9,3.1,2.8,3.0,3.2,3.0,
2.8,3.2,2.9,3.1,2.8,3.0,3.2,2.8,3.1,2.9,3.2,2.8,3.1,2.9,2.8,3.2,3.0,3.1,2.8,3.2,
2.9,3.1,2.8,3.2,2.9,2.8,3.1,3.0,2.8,3.2,3.0,2.9,3.2,2.8,2.9,3.1,3.2,2.8,3.0,3.1,
2.8,3.2,2.9,3.1,2.8,2.9,3.2,3.1,2.8,3.0,3.2,2.8,3.1,2.9,3.2,2.8,3.1,2.9,2.8,3.2,
2.9,3.1,2.8,3.2,2.9,3.1,2.8,3.0,3.2,2.8,3.1,2.9,3.1,2.8,2.9,3.2,2.8,3.1,2.9,3.1,
2.8,3.2,2.9,3.1,2.8,2.9,3.2,2.8,3.1,2.9,3.2,2.8,3.0,3.1,2.8,3.2,2.9,3.1,2.9,2.8,
3.1,2.8,3.2,2.9,2.8,3.1,3.0,3.1,2.8,3.2,2.9,3.1,2.8,2.9,3.2,2.8,3.1,2.9,3.1,2.8,
3.0,2.9,3.2,2.8,3.0,3.1,2.8,3.2,2.9,3.0,3.2,2.8,3.1,2.9,3.1,2.8,3.2,2.9,3.1,2.8,
2.9,3.2,2.8,3.1,2.9,3.1,2.8,2.9,3.2,2.8,3.1,2.9,2.8,3.2,2.9,3.1,2.8,3.0,3.2,2.8,
3.2,2.9,2.8,3.1,2.8,2.9,3.1,3.2,2.8,2.9,3.2,2.8,2.9,3.2,2.8,3.1,2.9,3.1,2.8,3.2,
3.0,2.8,3.2,2.9,3.1,2.8,2.9,3.1,3.2,2.8,3.0,3.1,2.8,3.2,3.0,2.8,3.1,2.9,3.1,2.8,
3.1,2.8,3.0,3.1];

const xTicks = [0, 10, 20, 30, 40, 50, 60, 70];
const xTitle = "time, ns";
const yTitle = "interatomic distance, Å";

// ---------- layout (pixels) ----------
const W = 632, H = 1406;
const FONT = "Liberation Sans, Arial, Helvetica, sans-serif";
const px = x => x / W, py = y => 1 - y / H;

const panels = [
  {letter: "a", box: [78, 619, 22.5, 409], ymax: 12, dy: 2, letterXY: [25, 22], yTitleX: 26, xTitleY: 459,
   names: namesA, series: [[aRed, aRedMid], [aBlue, aBlueMid], [aMagenta, aMagentaMid]],
   colors: ["#ff0000", "#0000ff", "#ff00ff"], legFont: 22,
   leg: {right: 512, x0: 528, x1: 590, rows: [345, 369, 393]}},
  {letter: "b", box: [70, 623, 499, 887], ymax: 7, dy: 1, letterXY: [18, 498], yTitleX: 29, xTitleY: 927,
   names: namesB, series: [[bBlue, bBlueMid], [bMagenta, bMagentaMid], [bGreen, bGreenMid]],
   colors: ["#0000ff", "#ff00ff", "#00ff00"], legFont: 22,
   leg: {right: 518, x0: 534, x1: 596, rows: [824, 847, 870]}},
  {letter: "c", box: [77, 607, 980, 1349], ymax: 8, dy: 1, letterXY: [25, 982], yTitleX: 40, xTitleY: 1390,
   names: namesC, series: [[cRed, cRedMid], [cBlue, cBlueMid], [cMagenta, cMagentaMid], [cGreen, cGreenMid]],
   colors: ["#ff0000", "#0000ff", "#ff00ff", "#00ff00"], legFont: 21,
   leg: {right: 506, x0: 521, x1: 581, rows: [1266, 1288.5, 1311, 1333.5]}}
];

// merge the main and half-step readings into one time-ordered series
function merge(main, mid) {
  const x = [], y = [];
  for (let i = 0; i < main.length; i++) {
    x.push(+(i * T_STEP).toFixed(3)); y.push(main[i]);
    if (i < mid.length) { x.push(+(i * T_STEP + T_STEP / 2).toFixed(3)); y.push(mid[i]); }
  }
  return {x, y};
}

const traces = [], annotations = [], shapes = [];
const layout = {
  width: W, height: H, margin: {l: 0, r: 0, t: 0, b: 0},
  paper_bgcolor: "#fff", plot_bgcolor: "#fff", showlegend: false,
  font: {family: FONT, color: "#1a1a1a"}
};

panels.forEach((p, k) => {
  const sfx = k === 0 ? "" : String(k + 1);
  const [x0, x1, y0, y1] = p.box;
  const axCommon = {
    showgrid: false, zeroline: false, showline: true, mirror: true,
    linecolor: "#5a5a5a", linewidth: 1.5, ticks: "inside", ticklen: 6, tickwidth: 1,
    tickcolor: "#5a5a5a", tickfont: {family: FONT, size: 17, color: "#1a1a1a"}, fixedrange: true,
    ticklabeloverflow: "allow"
  };
  layout["xaxis" + sfx] = Object.assign({}, axCommon, {
    domain: [px(x0), px(x1)], range: [0, 70], tickvals: xTicks, ticktext: xTicks.map(String),
    anchor: "y" + sfx, ticklabelstandoff: 2
  });
  layout["yaxis" + sfx] = Object.assign({}, axCommon, {
    domain: [py(y1), py(y0)], range: [0, p.ymax], dtick: p.dy, tick0: 0,
    anchor: "x" + sfx, ticklabelstandoff: 4
  });
  p.series.forEach((pair, j) => {
    const s = merge(pair[0], pair[1]);
    traces.push({
      type: "scatter", mode: "lines", name: p.names[j],
      x: s.x, y: s.y, xaxis: "x" + sfx, yaxis: "y" + sfx,
      line: {color: p.colors[j], width: 1.6}, hoverinfo: "skip"
    });
  });
  // legend (text right-aligned, sample line on the right, as in the original)
  p.names.forEach((nm, j) => {
    const ry = p.leg.rows[j];
    annotations.push({xref: "paper", yref: "paper", x: px(p.leg.right), y: py(ry), xanchor: "right", yanchor: "middle",
      text: nm, showarrow: false, borderpad: 0, font: {family: FONT, size: p.legFont, color: "#1a1a1a"}});
    shapes.push({type: "line", xref: "paper", yref: "paper", x0: px(p.leg.x0), x1: px(p.leg.x1), y0: py(ry), y1: py(ry),
      line: {color: p.colors[j], width: 2}});
  });
  // panel letter
  annotations.push({xref: "paper", yref: "paper", x: px(p.letterXY[0]), y: py(p.letterXY[1]), xanchor: "center", yanchor: "middle",
    text: "<b>" + p.letter + "</b>", showarrow: false, font: {family: FONT, size: 25, color: "#000"}});
  // axis titles
  annotations.push({xref: "paper", yref: "paper", x: px((x0 + x1) / 2), y: py(p.xTitleY), xanchor: "center", yanchor: "middle",
    text: xTitle, showarrow: false, borderpad: 0, font: {family: FONT, size: 23, color: "#1a1a1a"}});
  annotations.push({xref: "paper", yref: "paper", x: px(p.yTitleX), y: py((y0 + y1) / 2), xanchor: "center", yanchor: "middle",
    text: yTitle, textangle: -90, showarrow: false, font: {family: FONT, size: 23, color: "#1a1a1a"}});
});

layout.annotations = annotations;
layout.shapes = shapes;
Plotly.newPlot("chart", traces, layout, {staticPlot: true, displayModeBar: false});
</script></body></html>
